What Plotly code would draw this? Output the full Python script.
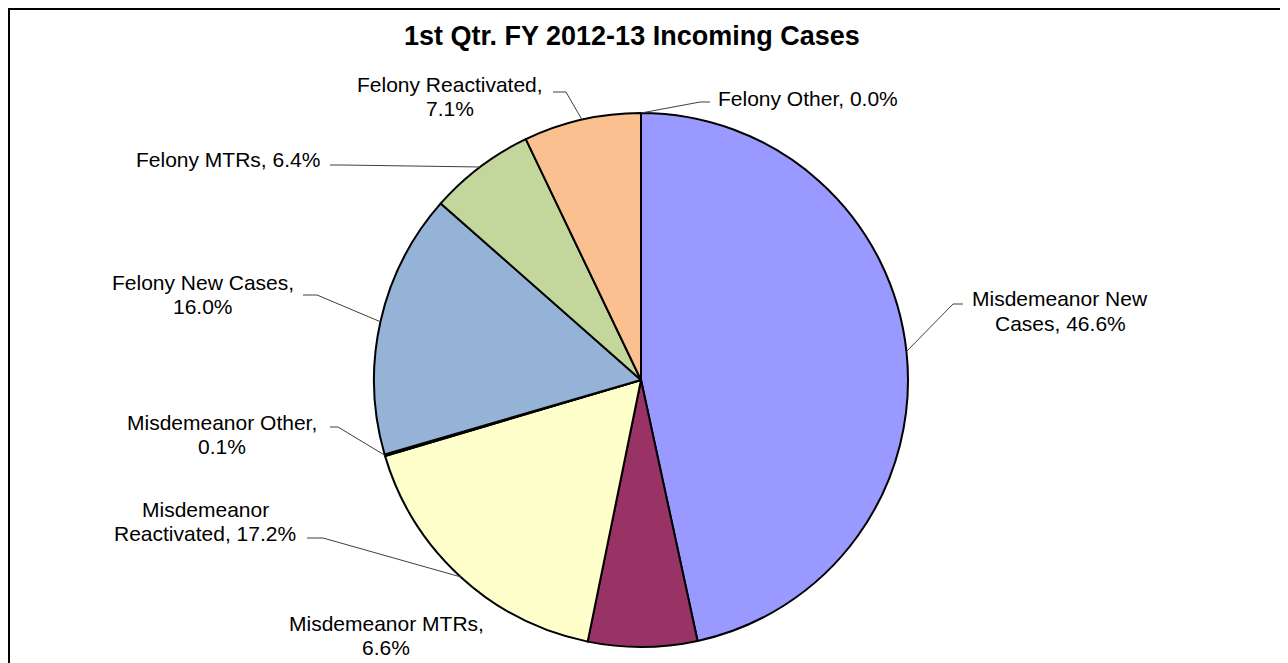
import math
import plotly.graph_objects as go

# ---- data ----
categories = [
    "Misdemeanor New Cases",
    "Misdemeanor MTRs",
    "Misdemeanor Reactivated",
    "Misdemeanor Other",
    "Felony New Cases",
    "Felony MTRs",
    "Felony Reactivated",
    "Felony Other",
]
percent_values = [46.6, 6.6, 17.2, 0.1, 16.0, 6.4, 7.1, 0.0]
slice_colors = ["#9999FF", "#993366", "#FFFFCC", "#CCC1DA",
                "#95B3D7", "#C3D69B", "#FAC090", "#B7DEE8"]
# label text split into lines as in the reference
label_lines = [
    ["Misdemeanor New", "Cases, {:.1f}%"],
    ["Misdemeanor MTRs,", "{:.1f}%"],
    ["Misdemeanor", "Reactivated, {:.1f}%"],
    ["Misdemeanor Other,", "{:.1f}%"],
    ["Felony New Cases,", "{:.1f}%"],
    ["Felony MTRs, {:.1f}%"],
    ["Felony Reactivated,", "{:.1f}%"],
    ["Felony Other, {:.1f}%"],
]
title_text = "1st Qtr. FY 2012-13 Incoming Cases"

# ---- layout geometry (page pixels) ----
OX, OY = 8, 8            # page body margin offset
FW, FH = 1280, 655       # figure size
CX, CY, R = 641, 380, 267

# label placement: (center x, first line y, line gap)
label_pos = [
    (1060, 299, 24),
    (386, 623, 24),
    (205, 509, 24),
    (222, 422, 24),
    (203, 282, 24),
    (228, 160, 24),
    (450, 84, 24),
    (808, 98, 24),
]
# leader: (start point near text, knee point) or None
leaders = [
    ((963, 304), (953, 304)),
    None,
    ((307, 538), (323, 538)),
    ((330, 427), (338, 427)),
    ((303, 295), (317, 295)),
    ((330, 165), (342, 165)),
    ((553, 92), (566, 92)),
    ((710, 102), (700, 102)),
]


def px(x):
    return (x - OX) / FW


def py(y):
    return 1 - (y - OY) / FH


total = sum(percent_values)

fig = go.Figure()
fig.add_trace(go.Pie(
    values=percent_values,
    labels=categories,
    sort=False,
    direction="clockwise",
    rotation=0,
    marker=dict(colors=slice_colors, line=dict(color="black", width=2)),
    textinfo="none",
    hoverinfo="label+percent",
    showlegend=False,
    domain=dict(x=[px(CX - R), px(CX + R)], y=[py(CY + R), py(CY - R)]),
))

annotations = []
shapes = []
cum = 0.0
for i, v in enumerate(percent_values):
    mid = (cum + v / 2) / total * 2 * math.pi
    cum += v
    ex = CX + R * math.sin(mid)
    ey = CY - R * math.cos(mid)
    cxl, y0, gap = label_pos[i]
    for k, line in enumerate(label_lines[i]):
        txt = line.format(v) if "{" in line else line
        annotations.append(dict(
            x=px(cxl), y=py(y0 + k * gap), xref="paper", yref="paper",
            text=txt, showarrow=False, xanchor="center", yanchor="middle",
            font=dict(family="Liberation Sans, Arial, sans-serif", size=21, color="#000000"),
        ))
    if leaders[i] is not None:
        (sx, sy), (kx, ky) = leaders[i]
        shapes.append(dict(
            type="path", xref="paper", yref="paper",
            path="M {} {} L {} {} L {} {}".format(px(sx), py(sy), px(kx), py(ky), px(ex), py(ey)),
            line=dict(color="#404040", width=1),
        ))

annotations.append(dict(
    x=px(632), y=py(36), xref="paper", yref="paper", text="<b>" + title_text + "</b>",
    showarrow=False, xanchor="center", yanchor="middle",
    font=dict(family="Liberation Sans, Arial, sans-serif", size=27, color="#000000"),
))

# chart border (left and top edges visible, rest runs off the page)
shapes.append(dict(type="rect", xref="paper", yref="paper",
                   x0=1 / FW, x1=1.02, y0=-0.02, y1=1 - 1 / FH,
                   line=dict(color="black", width=2), fillcolor="rgba(0,0,0,0)"))

fig.update_layout(
    width=FW, height=FH,
    margin=dict(l=0, r=0, t=0, b=0),
    paper_bgcolor="white",
    plot_bgcolor="white",
    annotations=annotations,
    shapes=shapes,
)

fig.write_html("out.html")
